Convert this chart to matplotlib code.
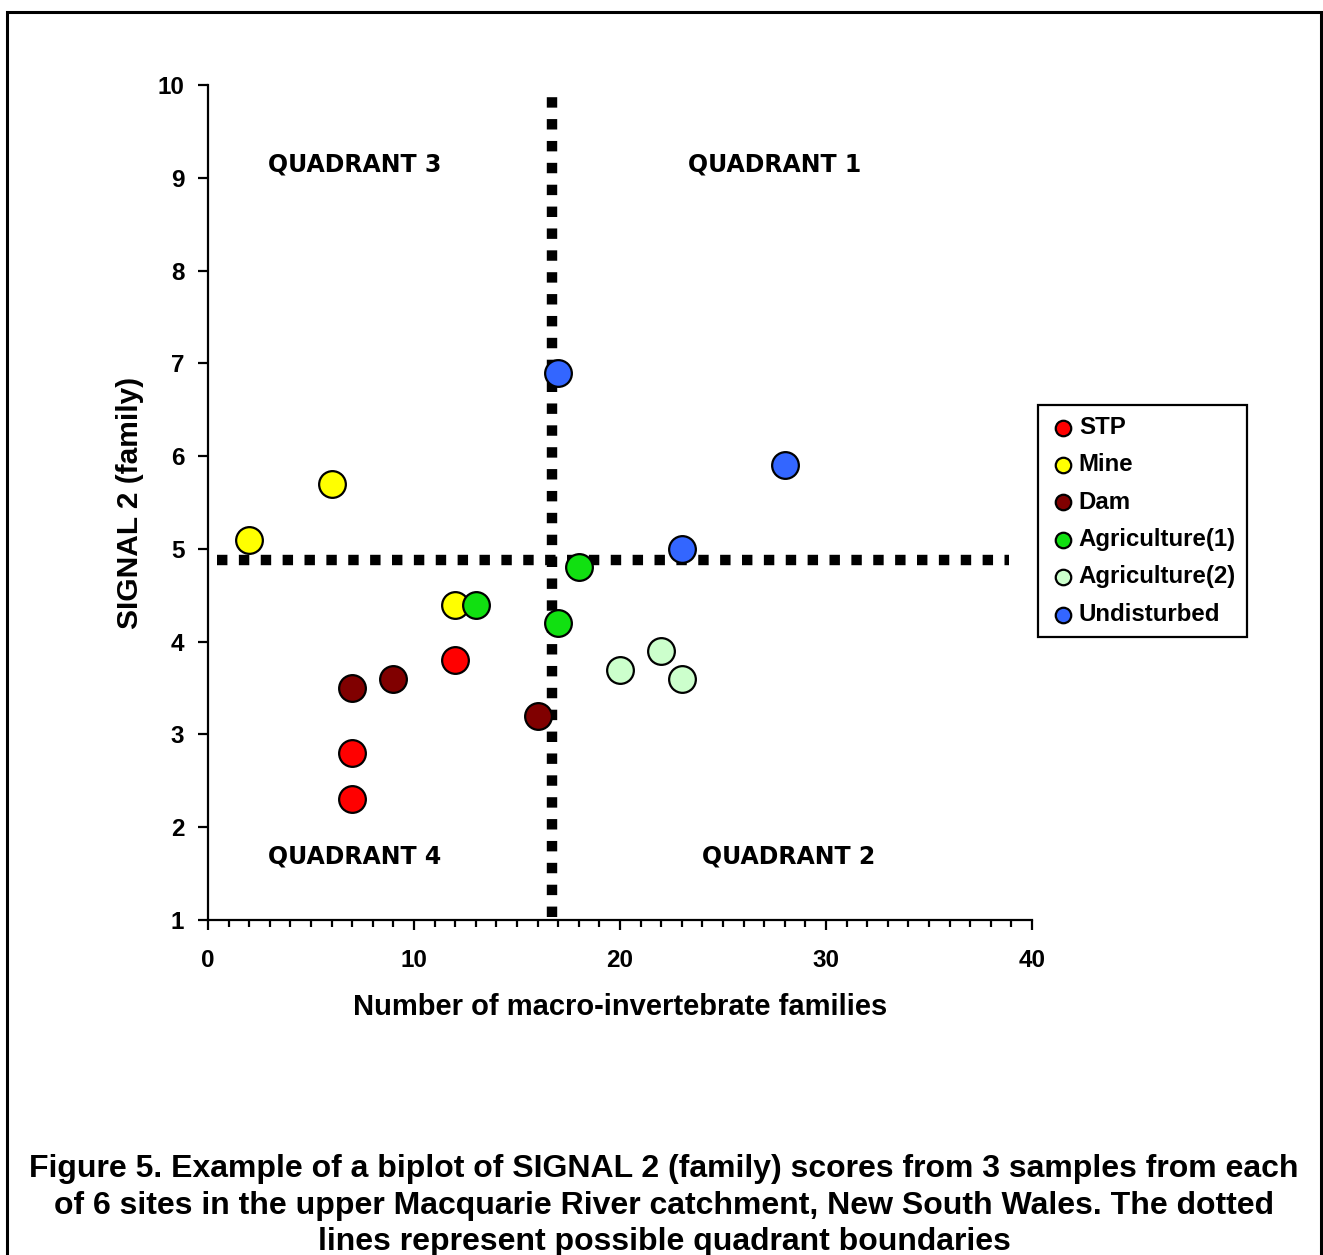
"""Biplot of SIGNAL 2 (family) scores against family richness, upper Macquarie River."""

import matplotlib

matplotlib.use("Agg")
import matplotlib.pyplot as plt
from matplotlib.patches import Rectangle
from matplotlib.ticker import MultipleLocator

plt.rcParams["font.family"] = ["Liberation Sans", "DejaVu Sans"]
plt.rcParams["font.weight"] = "bold"

# site groups, 3 samples each: (families, SIGNAL 2)
site_names = ["STP", "Mine", "Dam", "Agriculture(1)", "Agriculture(2)", "Undisturbed"]
site_colors = ["#ff0000", "#ffff00", "#800000", "#11e011", "#ccffcc", "#3366ff"]
stp_x = [7, 7, 12]
stp_y = [2.3, 2.8, 3.8]
mine_x = [2, 6, 12]
mine_y = [5.1, 5.7, 4.4]
dam_x = [7, 9, 16]
dam_y = [3.5, 3.6, 3.2]
agri1_x = [13, 17, 18]
agri1_y = [4.4, 4.2, 4.8]
agri2_x = [20, 22, 23]
agri2_y = [3.7, 3.9, 3.6]
undist_x = [17, 23, 28]
undist_y = [6.9, 5.0, 5.9]

# quadrant boundaries
boundary_x = 16.7
boundary_y = 4.88
vline_span = (1.03, 9.92)
hline_span = (0.45, 38.9)

quadrant_labels = ["QUADRANT 3", "QUADRANT 1", "QUADRANT 4", "QUADRANT 2"]
quadrant_pos = [(7.1, 9.14), (27.5, 9.14), (7.1, 1.68), (28.2, 1.68)]

caption = ("Figure 5. Example of a biplot of SIGNAL 2 (family) scores from 3 samples from each\n"
           "of 6 sites in the upper Macquarie River catchment, New South Wales. The dotted\n"
           "lines represent possible quadrant boundaries")

fig = plt.figure(figsize=(13.23, 12.55), dpi=100)
ax = fig.add_axes([0.1572, 0.2669, 0.6228, 0.6654])

# outer frame, bottom edge runs off the page
fig.patches.append(Rectangle((7 / 1323, -0.05), 1314 / 1323, 1.05 - 12 / 1255,
                             transform=fig.transFigure, fill=False,
                             edgecolor="black", linewidth=2.2))

dots = (0, (1.0, 1.1))
ax.plot([boundary_x, boundary_x], vline_span, color="black", linewidth=7.5,
        linestyle=dots, dash_capstyle="butt", zorder=2)
ax.plot(hline_span, [boundary_y, boundary_y], color="black", linewidth=7.5,
        linestyle=dots, dash_capstyle="butt", zorder=2)

groups = [(stp_x, stp_y), (mine_x, mine_y), (dam_x, dam_y),
          (agri1_x, agri1_y), (agri2_x, agri2_y), (undist_x, undist_y)]
for (xs, ys), name, color in zip(groups, site_names, site_colors):
    ax.scatter(xs, ys, s=370, color=color, edgecolor="black", linewidth=1.6,
               zorder=3, label=name)

for label, (qx, qy) in zip(quadrant_labels, quadrant_pos):
    ax.text(qx, qy, label, ha="center", va="center", fontsize=17,
            fontweight="heavy", family=["DejaVu Sans"])

ax.set_xlim(0, 40)
ax.set_ylim(1, 10)
ax.xaxis.set_major_locator(MultipleLocator(10))
ax.xaxis.set_minor_locator(MultipleLocator(1))
ax.yaxis.set_major_locator(MultipleLocator(1))
ax.spines["top"].set_visible(False)
ax.spines["right"].set_visible(False)
for side in ("left", "bottom"):
    ax.spines[side].set_linewidth(1.6)
ax.tick_params(axis="both", which="major", length=7, width=1.6, labelsize=17.5, pad=10)
ax.tick_params(axis="x", which="major", pad=14)
ax.tick_params(axis="x", which="minor", length=5, width=1.6)
ax.set_xlabel("Number of macro-invertebrate families", fontsize=21,
              fontweight="bold", labelpad=15)
ax.set_ylabel("SIGNAL 2 (family)", fontsize=21.5, fontweight="bold", labelpad=10)

leg = ax.legend(loc="upper left", bbox_to_anchor=(1038 / 1323, 1 - 405 / 1255),
                bbox_transform=fig.transFigure, borderaxespad=0, fancybox=False,
                edgecolor="black", framealpha=1, fontsize=17.3, markerscale=0.58,
                handletextpad=0.05, handlelength=1.2, labelspacing=0.6,
                borderpad=0.45)
leg.get_frame().set_linewidth(1.6)

fig.text(0.502, 1 - 1154 / 1255, caption, ha="center", va="top", fontsize=23,
         fontweight="bold", linespacing=1.29)

fig.savefig("out.png", dpi=100)
